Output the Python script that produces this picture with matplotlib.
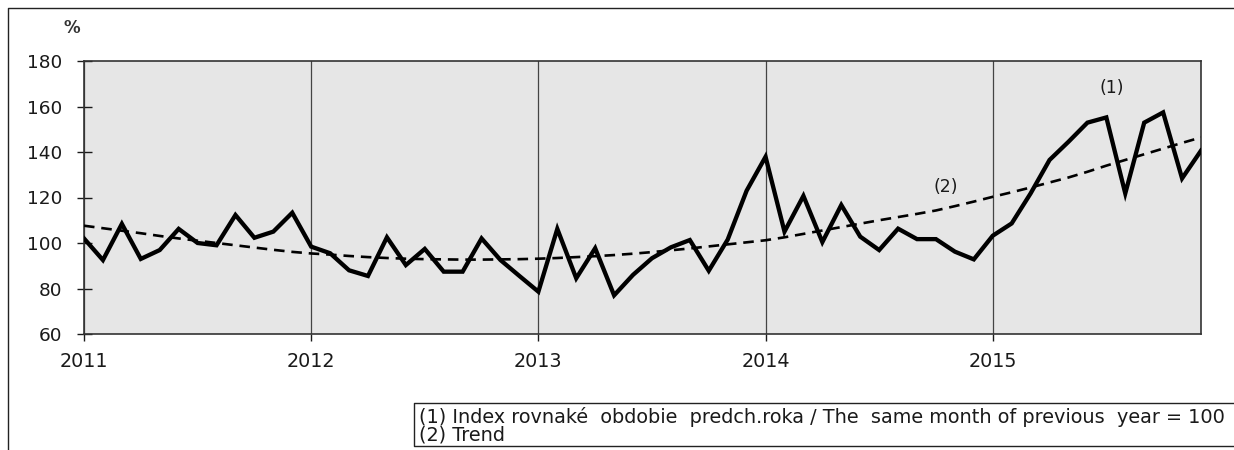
import matplotlib
matplotlib.use("Agg")
import matplotlib.pyplot as plt
from matplotlib.lines import Line2D

plt.rcParams['font.family'] = ['DejaVu Sans']

# monthly values Jan 2011 .. Dec 2015
index_vals = [102, 92.5, 108.4, 93, 96.9, 106.2, 100, 99, 112.3, 102.3, 105, 113.3,
              98.4, 95.5, 88, 85.5, 102.5, 90.3, 97.4, 87.4, 87.4, 102, 92.5, 85.5,
              78.6, 106.2, 84.5, 97.7, 77, 86, 93.3, 98.1, 101.3, 87.8, 101.5, 123,
              137.9, 105, 120.7, 100.4, 116.7, 102.8, 96.9, 106.3, 101.7, 101.7, 96.2, 92.8,
              103.2, 108.6, 121.8, 136.5, 144.5, 152.9, 155.2, 121.8, 152.9, 157.4, 128.4, 140.6]
trend_vals = [107.6, 106.5, 105.4, 104.3, 103.1, 102.0, 101.0, 100.0, 99.0, 98.0, 97.0, 96.1,
              95.4, 94.9, 94.3, 93.8, 93.4, 93.1, 92.9, 92.8, 92.7, 92.7, 92.8, 92.9,
              93.1, 93.4, 93.8, 94.2, 94.7, 95.3, 96.0, 96.8, 97.6, 98.5, 99.4, 100.3,
              101.2, 102.5, 104.0, 105.5, 107.0, 108.5, 110.0, 111.4, 112.8, 114.3, 116.2, 118.2,
              120.3, 122.3, 124.4, 126.6, 128.8, 131.3, 134.0, 136.5, 139.0, 141.5, 144.0, 146.4]
years = ['2011', '2012', '2013', '2014', '2015']
y_ticks = [60, 80, 100, 120, 140, 160, 180]

legend_lines = ["(1) Index rovnaké  obdobie  predch.roka / The  same month of previous  year = 100",
                "(2) Trend"]

W, H = 1234, 450
fig = plt.figure(figsize=(W / 100, H / 100), dpi=100)


def fig_line(xs, ys):
    # pixel coords from top-left -> figure fraction
    fig.lines.append(Line2D([x / W for x in xs], [1 - y / H for y in ys],
                            transform=fig.transFigure, color='#222222', linewidth=1.0))


# outer frame, only top and left edges are visible
fig_line([7.5, 7.5, W + 10], [H + 10, 7.5, 7.5])

ax = fig.add_axes([84 / W, (H - 334) / H, (1201 - 84) / W, (334 - 61) / H])
ax.set_facecolor('#e6e6e6')

months = list(range(len(index_vals)))
ax.plot(months, trend_vals, color='black', linewidth=1.9, linestyle=(0, (4, 2.6)), zorder=3)
ax.plot(months, index_vals, color='black', linewidth=3.1, solid_joinstyle='miter', zorder=4)

ax.set_xlim(0, 59)
ax.set_ylim(60, 180)
ax.set_xticks([12 * i for i in range(len(years))])
ax.set_xticklabels(years)
ax.set_yticks(y_ticks)
ax.grid(axis='x', color='#444444', linewidth=0.9)
ax.set_axisbelow(True)

ax.tick_params(axis='y', direction='inout', length=10.8, width=1.0, pad=10.2,
               labelsize=13.3, colors='#1a1a1a')
ax.tick_params(axis='x', direction='out', length=5, width=1.0, pad=8.3,
               labelsize=13.8, colors='#1a1a1a')
for sp in ax.spines.values():
    sp.set_color('#333333')
    sp.set_linewidth(1.2)

ax.text(54.3, 168.1, '(1)', fontsize=12.5, ha='center', va='center', color='#1a1a1a')
ax.text(45.5, 124.6, '(2)', fontsize=12.5, ha='center', va='center', color='#1a1a1a')

fig.text(72 / W, 1 - 28 / H, '%', fontsize=12, fontweight='bold', ha='center', va='center',
         color='#333333')

# legend box (right edge falls outside the picture)
fig_line([W + 10, 414, 414, W + 10], [403, 403, 446, 446])
fig.text(419 / W, 1 - 417 / H, legend_lines[0], fontsize=13.85, ha='left', va='center', color='#1a1a1a')
fig.text(419 / W, 1 - 435 / H, legend_lines[1], fontsize=13.85, ha='left', va='center', color='#1a1a1a')

fig.savefig('out.png', dpi=100)
